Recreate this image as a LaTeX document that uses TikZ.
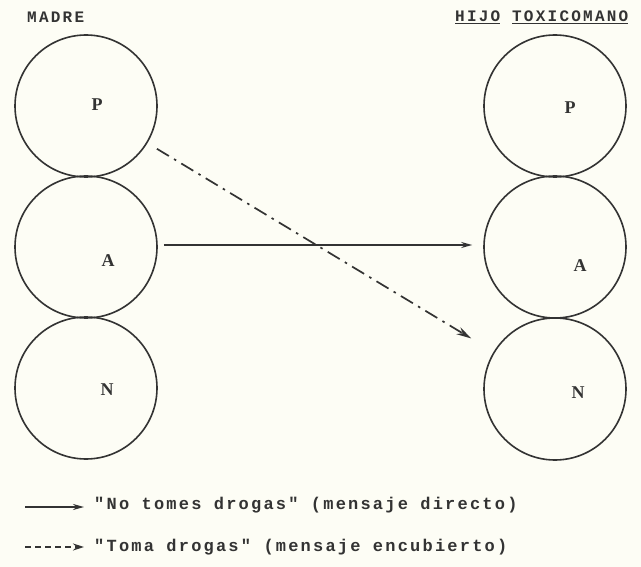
\documentclass[tikz,border=0pt]{standalone}
\usepackage{fontspec}
\setmonofont{Liberation Mono}
\newfontfamily\labfont{Liberation Serif}
\usetikzlibrary{arrows.meta}
\definecolor{paper}{HTML}{FDFDF5}
\definecolor{ink}{HTML}{333333}
\tikzset{
  ring/.style={circle, draw=ink, line width=1.6pt, minimum size=142pt, inner sep=0pt},
  lab/.style={font=\labfont\bfseries\fontsize{18}{20}\selectfont, text=ink},
  head/.style={font=\ttfamily\bfseries\fontsize{16}{18}\selectfont\addfontfeature{LetterSpace=14}, text=ink, inner sep=0pt},
  legtext/.style={font=\ttfamily\bfseries\fontsize{17}{18}\selectfont\addfontfeature{LetterSpace=13}, text=ink, inner sep=0pt, anchor=west},
  solidarrow/.style={draw=ink, line width=1.5pt, -{Stealth[length=11pt,width=6pt]}},
  dasharrow/.style={draw=ink, line width=1.7pt, dash pattern=on 14pt off 6pt on 2.5pt off 6pt, -{Stealth[length=15pt,width=8pt]}},
}
\begin{document}
\begin{tikzpicture}[x=1pt,y=-1pt]
\fill[paper] (0,0) rectangle (641,567);
\useasboundingbox (0,0) rectangle (641,567);
% headings
\node[head, anchor=west] (hm) at (27,17) {MADRE};
\node[head, anchor=west] (hh) at (455,17) {\underline{HIJO} \underline{TOXICOMANO}};
% left circles
\node[ring] (lP) at (86,106) {};
\node[ring] (lA) at (86,247) {};
\node[ring] (lN) at (86,388) {};
% right circles
\node[ring] (rP) at (555,106) {};
\node[ring] (rA) at (555,247) {};
\node[ring] (rN) at (555,389) {};
% labels
\node[lab] (lPl) at (97,105) {P};
\node[lab] (lAl) at (108,261) {A};
\node[lab] (lNl) at (107,390) {N};
\node[lab] (rPl) at (570,108) {P};
\node[lab] (rAl) at (580,266) {A};
\node[lab] (rNl) at (578,393) {N};
% messages
\draw[solidarrow, shorten <=6pt, shorten >=11pt] ([yshift=2pt]lA.east) -- ([yshift=2pt]rA.west);
\draw[dasharrow, shorten <=11pt, shorten >=26pt] (lP) -- (rN);
% legend
\coordinate (s1) at (25,507);
\coordinate (e1) at (84,507);
\coordinate (s2) at (25,547);
\coordinate (e2) at (84,547);
\draw[solidarrow] (s1) -- (e1);
\draw[draw=ink, line width=1.6pt, dash pattern=on 6pt off 4pt, -{Stealth[length=11pt,width=7pt]}] (s2) -- (e2);
\node[legtext] (t1) at (94,505) {"No tomes drogas" (mensaje directo)};
\node[legtext] (t2) at (94,547) {"Toma drogas" (mensaje encubierto)};
\end{tikzpicture}
\end{document}
